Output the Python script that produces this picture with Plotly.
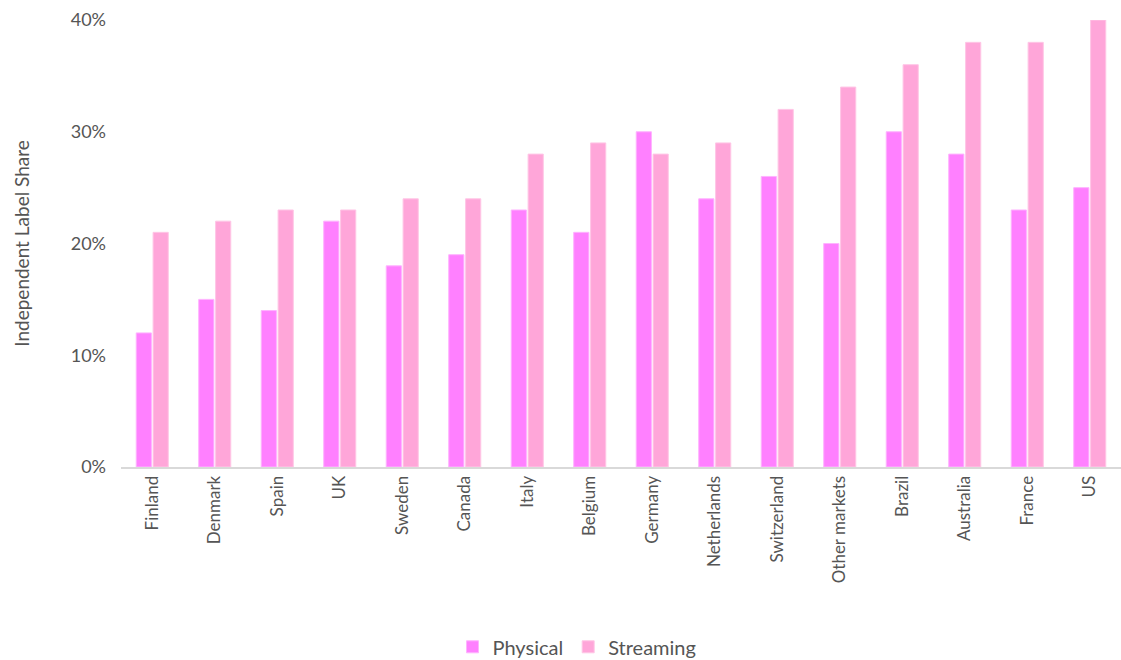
import plotly.graph_objects as go

markets = ["Finland", "Denmark", "Spain", "UK", "Sweden", "Canada", "Italy", "Belgium",
           "Germany", "Netherlands", "Switzerland", "Other markets", "Brazil",
           "Australia", "France", "US"]
physical = [12, 15, 14, 22, 18, 19, 23, 21, 30, 24, 26, 20, 30, 28, 23, 25]
streaming = [21, 22, 23, 23, 24, 24, 28, 29, 28, 29, 32, 34, 36, 38, 38, 40]
y_ticks = [0, 10, 20, 30, 40]
y_tick_text = ["0%", "10%", "20%", "30%", "40%"]

FONT = "Lato, 'Open Sans', sans-serif"
TEXT = "#555555"

fig = go.Figure()
fig.add_trace(go.Bar(name="Physical", x=markets, y=physical,
                     marker=dict(color="#FF80FF", line=dict(color="#FFB3FF", width=1))))
fig.add_trace(go.Bar(name="Streaming", x=markets, y=streaming,
                     marker=dict(color="#FFA6D9", line=dict(color="#FFC6E6", width=1))))

fig.update_layout(
    width=1121, height=660,
    margin=dict(l=121, r=0, t=20, b=193, autoexpand=False),
    paper_bgcolor="white", plot_bgcolor="white",
    barmode="group", bargap=0.46, bargroupgap=0.1,
    font=dict(family=FONT, color=TEXT, size=17),
    showlegend=True,
    legend=dict(orientation="h", x=0.456, xanchor="center",
                yref="container", y=0.02, yanchor="middle",
                font=dict(size=20, color=TEXT), itemwidth=30, tracegroupgap=0),
    xaxis=dict(tickangle=-90, tickfont=dict(size=17, color=TEXT),
               showline=True, linecolor="#D9D9D9", linewidth=2,
               showgrid=False, ticks="", automargin=False),
    yaxis=dict(range=[0, 40], tickvals=y_ticks, ticktext=y_tick_text,
               tickfont=dict(size=18, color=TEXT), showgrid=False, zeroline=False,
               title=dict(text="Independent Label Share", font=dict(size=19, color=TEXT), standoff=36),
               ticks="", ticklabelstandoff=14, automargin=False),
)

fig.write_html("out.html")
